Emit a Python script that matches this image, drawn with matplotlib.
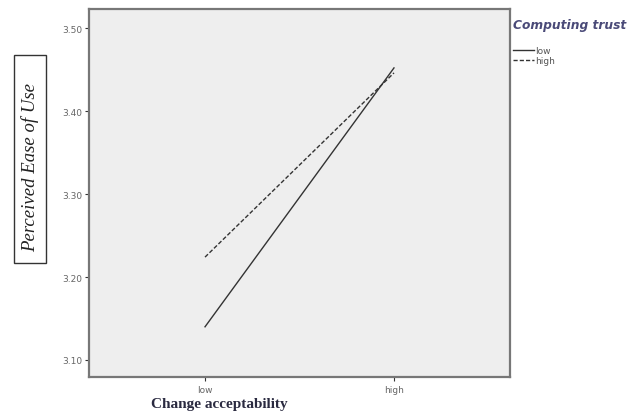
import matplotlib.pyplot as plt
from matplotlib.patches import Rectangle

# estimated marginal means
change_levels = ['low', 'high']
trust_low = [3.14, 3.452]
trust_high = [3.224, 3.446]
y_ticks = [3.10, 3.20, 3.30, 3.40, 3.50]

W, H = 638, 414
fig = plt.figure(figsize=(W / 100, H / 100), dpi=100)
# axes box: x 89..510, y 10..378 in pixels
ax = fig.add_axes([89 / W, 1 - 378 / H, (510 - 89) / W, (378 - 10) / H])
ax.set_facecolor('#eeeeee')

x = list(range(len(change_levels)))
ax.plot(x, trust_low, color='#333333', lw=1.0, ls='-', label='low')
ax.plot(x, trust_high, color='#333333', lw=1.0, ls=(0, (3, 1.5)), label='high')

ax.set_xlim(-0.614, 1.614)
ax.set_ylim(3.0795, 3.523)
ax.set_xticks(x)
ax.set_xticklabels(change_levels)
ax.set_yticks(y_ticks)
ax.set_yticklabels(['%.2f' % v for v in y_ticks])
ax.tick_params(labelsize=6.5, labelcolor='#666666', color='#333333', length=3, width=0.8, pad=1.5)
ax.tick_params(axis='x', pad=3)

for side in ['left', 'bottom', 'right', 'top']:
    ax.spines[side].set_color('#777777')
    ax.spines[side].set_linewidth(1.6)

# legend at the right edge, title drawn separately
leg = ax.legend(loc='upper left', bbox_to_anchor=((513 - 89) / 421, (378 - 47) / 368),
                frameon=False, fontsize=6.5, handlelength=2.3, handletextpad=0.2,
                labelspacing=0.1, borderpad=0, borderaxespad=0)
for t in leg.get_texts():
    t.set_color('#555555')
fig.text(513 / W, 1 - 25 / H, 'Computing trust', fontsize=8.8, style='italic', weight='bold',
         family='DejaVu Sans', color='#4a4a78', va='center', ha='left')

# boxed y label
fig.add_artist(Rectangle((14 / W, 1 - 264 / H), 32 / W, 208 / H, transform=fig.transFigure,
                         fill=False, ec='#333333', lw=1))
fig.text(30 / W, 1 - 168 / H, 'Perceived Ease of Use', rotation=90, fontsize=13.5,
         style='italic', family='Liberation Serif', color='#222222',
         ha='center', va='center')

fig.text(219 / W, 1 - 405 / H, 'Change acceptability', fontsize=11, weight='bold',
         family='Liberation Serif', color='#2a2a40', ha='center', va='center')

fig.savefig('out.png', dpi=100)
